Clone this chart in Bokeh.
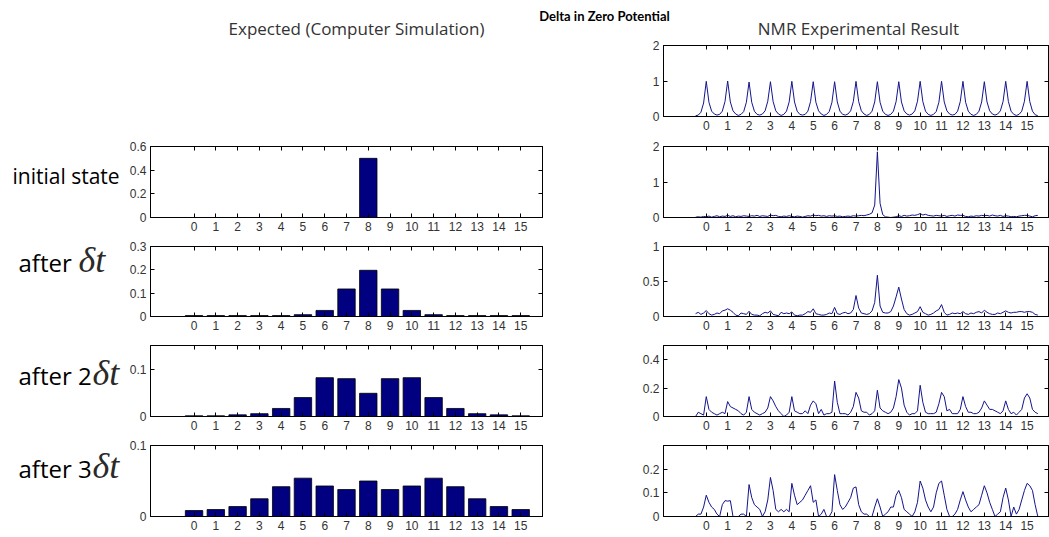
from bokeh.plotting import figure
from bokeh.models import Range1d, FixedTicker, LinearAxis, Spacer
from bokeh.core.properties import value
from bokeh.layouts import column, row
from bokeh.embed import file_html
from bokeh.resources import INLINE

# ---------------- data ----------------
positions = list(range(16))
tick_labels = [str(i) for i in positions]

sim_initial = [0, 0, 0, 0, 0, 0, 0, 0, 0.5, 0, 0, 0, 0, 0, 0, 0]
sim_dt = [0.004, 0.004, 0.004, 0.004, 0.004, 0.008, 0.026, 0.118,
          0.198, 0.118, 0.026, 0.008, 0.004, 0.004, 0.004, 0.004]
sim_2dt = [0.0015, 0.0015, 0.0035, 0.006, 0.017, 0.040, 0.082, 0.080,
           0.049, 0.080, 0.082, 0.040, 0.017, 0.006, 0.0035, 0.0015]
sim_3dt = [0.0084, 0.0098, 0.014, 0.025, 0.042, 0.054, 0.043, 0.038,
           0.050, 0.038, 0.043, 0.054, 0.042, 0.025, 0.014, 0.0098]

# NMR spectra sampled every 0.125 from -0.5 to 15.5
nmr_start = -0.5
nmr_step = 0.125
nmr_reference = [0.02, 0.04, 0.12, 0.38,
    0.99, 0.40, 0.15, 0.07, 0.04, 0.06, 0.15, 0.42,
    1.00, 0.41, 0.16, 0.07, 0.03, 0.06, 0.14, 0.40,
    0.97, 0.40, 0.15, 0.06, 0.04, 0.07, 0.16, 0.43,
    0.98, 0.42, 0.16, 0.07, 0.03, 0.06, 0.15, 0.41,
    0.99, 0.41, 0.15, 0.06, 0.04, 0.06, 0.15, 0.42,
    0.98, 0.40, 0.16, 0.07, 0.03, 0.06, 0.14, 0.40,
    0.98, 0.41, 0.15, 0.06, 0.04, 0.07, 0.16, 0.42,
    0.99, 0.42, 0.16, 0.07, 0.03, 0.06, 0.15, 0.41,
    0.98, 0.40, 0.15, 0.06, 0.03, 0.06, 0.15, 0.42,
    0.98, 0.41, 0.16, 0.07, 0.04, 0.07, 0.16, 0.43,
    0.99, 0.42, 0.15, 0.06, 0.03, 0.06, 0.14, 0.40,
    0.99, 0.41, 0.16, 0.07, 0.04, 0.06, 0.15, 0.42,
    0.99, 0.40, 0.15, 0.06, 0.03, 0.06, 0.15, 0.41,
    0.98, 0.41, 0.16, 0.07, 0.04, 0.07, 0.16, 0.42,
    0.99, 0.42, 0.15, 0.06, 0.03, 0.06, 0.15, 0.43,
    0.99, 0.42, 0.15, 0.05, 0.02]
nmr_initial = [0.01, 0.02, 0.01, 0.03,
    0.02, 0.04, 0.01, 0.03, 0.05, 0.02, 0.04, 0.03,
    0.06, 0.03, 0.05, 0.02, 0.04, 0.03, 0.05, 0.04,
    0.03, 0.05, 0.04, 0.06, 0.03, 0.05, 0.04, 0.03,
    0.07, 0.05, 0.06, 0.03, 0.02, 0.04, 0.03, 0.05,
    0.03, 0.02, 0.04, 0.03, 0.01, 0.03, 0.05, 0.04,
    0.07, 0.05, 0.06, 0.04, 0.05, 0.03, 0.05, 0.04,
    0.05, 0.03, 0.04, 0.02, 0.03, 0.04, 0.03, 0.05,
    0.04, 0.05, 0.06, 0.05, 0.07, 0.09, 0.13, 0.35,
    1.85, 0.40, 0.08, 0.02, 0.01, 0.00, 0.01, 0.02,
    0.05, 0.03, 0.06, 0.04, 0.05, 0.07, 0.06, 0.08,
    0.11, 0.07, 0.09, 0.06, 0.05, 0.04, 0.06, 0.05,
    0.04, 0.06, 0.03, 0.05, 0.06, 0.04, 0.07, 0.06,
    0.06, 0.03, 0.02, 0.04, 0.03, 0.05, 0.04, 0.06,
    0.05, 0.06, 0.04, 0.07, 0.05, 0.04, 0.06, 0.03,
    0.05, 0.04, 0.02, 0.03, 0.02, 0.04, 0.05, 0.06,
    0.06, 0.04, 0.02, 0.05, 0.06]
nmr_dt = [0.04, 0.06, 0.03, 0.05,
    0.085, 0.04, 0.02, 0.03, 0.05, 0.04, 0.08, 0.09,
    0.11, 0.09, 0.06, 0.02, 0.01, 0.05, 0.04, 0.03,
    0.075, 0.03, 0.02, 0.02, 0.01, 0.04, 0.06, 0.05,
    0.08, 0.03, 0.02, 0.01, 0.06, 0.04, 0.05, 0.04,
    0.065, 0.02, 0.01, 0.02, 0.02, 0.04, 0.07, 0.06,
    0.11, 0.04, 0.03, 0.02, 0.02, 0.03, 0.05, 0.04,
    0.13, 0.04, 0.03, 0.05, 0.06, 0.04, 0.05, 0.10,
    0.30, 0.12, 0.05, 0.04, 0.03, 0.04, 0.08, 0.20,
    0.59, 0.15, 0.06, 0.05, 0.05, 0.07, 0.15, 0.28,
    0.42, 0.25, 0.10, 0.04, 0.02, 0.03, 0.05, 0.07,
    0.14, 0.06, 0.04, 0.02, 0.03, 0.05, 0.08, 0.10,
    0.17, 0.06, 0.02, 0.03, 0.05, 0.04, 0.05, 0.04,
    0.07, 0.04, 0.03, 0.05, 0.04, 0.06, 0.07, 0.05,
    0.09, 0.06, 0.04, 0.03, 0.03, 0.05, 0.04, 0.06,
    0.08, 0.06, 0.05, 0.06, 0.06, 0.07, 0.07, 0.06,
    0.07, 0.07, 0.06, 0.03, 0.02]
nmr_2dt = [0.00, 0.03, 0.02, 0.01,
    0.14, 0.05, 0.03, 0.02, 0.01, 0.02, 0.03, 0.02,
    0.105, 0.07, 0.06, 0.05, 0.04, 0.02, 0.01, 0.03,
    0.14, 0.05, 0.03, 0.02, 0.01, 0.02, 0.03, 0.06,
    0.14, 0.11, 0.07, 0.04, 0.02, 0.00, 0.01, 0.03,
    0.14, 0.04, 0.03, 0.02, 0.02, 0.04, 0.02, 0.08,
    0.11, 0.09, 0.02, 0.05, 0.01, 0.02, 0.02, 0.03,
    0.25, 0.10, 0.02, 0.02, 0.02, 0.01, 0.03, 0.07,
    0.17, 0.13, 0.04, 0.03, 0.03, 0.01, 0.02, 0.04,
    0.185, 0.06, 0.04, 0.03, 0.02, 0.03, 0.06, 0.14,
    0.26, 0.20, 0.08, 0.03, 0.01, 0.02, 0.02, 0.04,
    0.22, 0.10, 0.03, 0.02, 0.02, 0.02, 0.03, 0.09,
    0.17, 0.14, 0.04, 0.05, 0.02, 0.02, 0.02, 0.05,
    0.14, 0.07, 0.03, 0.03, 0.02, 0.02, 0.03, 0.06,
    0.11, 0.08, 0.05, 0.05, 0.04, 0.03, 0.02, 0.04,
    0.11, 0.05, 0.02, 0.03, 0.01, 0.03, 0.05, 0.13,
    0.16, 0.13, 0.05, 0.03, 0.02]
nmr_3dt = [0.00, 0.01, 0.01, 0.04,
    0.09, 0.06, 0.04, 0.03, 0.01, 0.00, 0.05, 0.067,
    0.065, 0.067, 0.00, 0.00, 0.00, 0.01, 0.01, 0.00,
    0.135, 0.08, 0.05, 0.04, 0.03, 0.00, 0.02, 0.07,
    0.165, 0.11, 0.03, 0.02, 0.03, 0.02, 0.03, 0.02,
    0.14, 0.09, 0.05, 0.06, 0.07, 0.09, 0.11, 0.13,
    0.06, 0.07, 0.00, 0.01, 0.03, 0.00, 0.00, 0.02,
    0.177, 0.11, 0.05, 0.03, 0.04, 0.06, 0.08, 0.12,
    0.125, 0.05, 0.02, 0.01, 0.01, 0.00, 0.00, 0.04,
    0.075, 0.04, 0.00, 0.01, 0.02, 0.04, 0.04, 0.09,
    0.11, 0.08, 0.03, 0.02, 0.01, 0.00, 0.02, 0.06,
    0.15, 0.12, 0.07, 0.04, 0.02, 0.04, 0.10, 0.14,
    0.15, 0.09, 0.03, 0.00, 0.00, 0.01, 0.03, 0.07,
    0.105, 0.07, 0.04, 0.02, 0.03, 0.04, 0.05, 0.09,
    0.13, 0.10, 0.06, 0.03, 0.00, 0.01, 0.02, 0.08,
    0.12, 0.07, 0.00, 0.04, 0.01, 0.03, 0.07, 0.11,
    0.14, 0.13, 0.11, 0.05, 0.00]

nmr_x = [nmr_start + nmr_step * i for i in range(len(nmr_reference))]

main_title = "Delta in Zero Potential"
left_title = "Expected (Computer Simulation)"
right_title = "NMR Experimental Result"
row_labels = ["initial state", "after", "after 2", "after 3"]
delta_label = "\u03b4t"

# ---------------- styling / layout ----------------
TICK_FONT = "Liberation Sans"
TICK_COLOR = "#333333"
BAR_COLOR = "#000080"
LINE_COLOR = "#14148c"
X_MIN, X_MAX = -2, 16


def fmt(v):
    return "%g" % v


def make_fig(ymax, yticks, fw, fh, bl, br, bt, bb):
    p = figure(frame_width=fw, frame_height=fh,
               min_border_left=bl, min_border_right=br,
               min_border_top=bt, min_border_bottom=bb,
               x_range=Range1d(X_MIN, X_MAX), y_range=Range1d(0, ymax),
               x_axis_type=None, y_axis_type=None,
               output_backend="svg", toolbar_location=None, tools="")
    p.outline_line_color = "black"
    p.outline_line_width = 1
    p.background_fill_color = "white"
    p.border_fill_color = "white"

    def axis(ticks, labels_on):
        ax = LinearAxis(ticker=FixedTicker(ticks=ticks, minor_ticks=[]),
                        major_tick_in=4, major_tick_out=0,
                        major_tick_line_color="black",
                        axis_line_color="black",
                        minor_tick_line_color=None)
        if labels_on:
            ax.major_label_overrides = {t: fmt(t) for t in ticks}
            ax.major_label_text_font = TICK_FONT
            ax.major_label_text_font_size = "12px"
            ax.major_label_text_color = TICK_COLOR
            ax.major_label_standoff = 4
        else:
            ax.major_label_overrides = {t: "" for t in ticks}
            ax.major_label_text_font_size = "1px"
            ax.major_label_standoff = 0
        return ax

    p.add_layout(axis(positions, True), "below")
    p.add_layout(axis(yticks, True), "left")
    p.add_layout(axis(positions, False), "above")
    p.add_layout(axis(yticks, False), "right")
    return p


def text_fig(w, h):
    """A borderless figure whose frame is the whole area, in pixel coordinates (y down)."""
    p = figure(frame_width=w, frame_height=h, min_border=0,
               x_range=Range1d(0, w), y_range=Range1d(h, 0),
               x_axis_type=None, y_axis_type=None,
               output_backend="svg", toolbar_location=None, tools="")
    p.outline_line_color = None
    p.background_fill_color = "white"
    p.border_fill_color = "white"
    p.xgrid.visible = False
    p.ygrid.visible = False
    return p


def put_text(p, x, y, txt, font, size, style="normal", color="black", align="left"):
    p.text(x=[x], y=[y], text=[txt], text_font=value(font), text_font_size=size,
           text_font_style=style, text_color=color, text_align=align,
           text_baseline="middle")


# Left column geometry: label area 126 + bar figure (border 24, frame 392, right 58)
LBL_W = 126
L_BL, L_FW, L_BR = 24, 392, 58
# Right column geometry
R_BL, R_FW, R_BR = 63, 385, 1

# Header (titles)
HEAD_H = 40
header = text_fig(1049, HEAD_H)
put_text(header, 604, 15, main_title, "Lato", "13px", style="bold", align="center")
put_text(header, 356, 28, left_title, "Open Sans", "17px", color="#333333", align="center")
put_text(header, 858, 28, right_title, "Open Sans", "17px", color="#333333", align="center")

# Top row: NMR reference only
top_right = make_fig(2, [0, 1, 2], R_FW, 71, R_BL, R_BR, 5, 23)
top_right.line(nmr_x, nmr_reference, line_color=LINE_COLOR, line_width=1)
top_row = row(Spacer(width=600, height=99), top_right)

WORD_FONT = "Open Sans"
DELTA_FONT, DELTA_SIZE, DELTA_COLOR = "Liberation Serif", "36px", "#2a2a2a"

rows_spec = [
    # sim, ymax_l, yticks_l, nmr, ymax_r, yticks_r, frame_h, border_bottom, row_h, label texts
    (sim_initial, 0.6, [0, 0.2, 0.4, 0.6], nmr_initial, 2, [0, 1, 2], 71, 22, 100,
     [(row_labels[0], 12, 29, WORD_FONT, "normal", "21px", "black")]),
    (sim_dt, 0.3, [0, 0.1, 0.2, 0.3], nmr_dt, 1, [0, 0.5, 1], 70, 22, 99,
     [(row_labels[1], 18, 16, WORD_FONT, "normal", "24px", "black"),
      (delta_label, 78, 13, DELTA_FONT, "italic", DELTA_SIZE, DELTA_COLOR)]),
    (sim_2dt, 0.15, [0, 0.1], nmr_2dt, 0.5, [0, 0.2, 0.4], 71, 22, 100,
     [(row_labels[2], 18, 30, WORD_FONT, "normal", "24px", "black"),
      (delta_label, 92, 27, DELTA_FONT, "italic", DELTA_SIZE, DELTA_COLOR)]),
    (sim_3dt, 0.1, [0, 0.1], nmr_3dt, 0.3, [0, 0.1, 0.2], 71, 21, 99,
     [(row_labels[3], 18, 23, WORD_FONT, "normal", "24px", "black"),
      (delta_label, 92, 20, DELTA_FONT, "italic", DELTA_SIZE, DELTA_COLOR)]),
]

rows = [header, top_row]
for sim, yl, tl, nmr, yr, tr, fh, bb, rh, labels in rows_spec:
    lbl = text_fig(LBL_W, rh)
    for txt, X, Y, font, style, size, color in labels:
        put_text(lbl, X, Y, txt, font, size, style=style, color=color)
    lf = make_fig(yl, tl, L_FW, fh, L_BL, L_BR, 7, bb)
    lf.vbar(x=positions, top=sim, width=0.8, fill_color=BAR_COLOR,
            line_color="black", line_width=0.8)
    rf = make_fig(yr, tr, R_FW, fh, R_BL, R_BR, 7, bb)
    rf.line(nmr_x, nmr, line_color=LINE_COLOR, line_width=1)
    rows.append(row(lbl, lf, rf))

layout = column(*rows)
open("out.html", "w").write(file_html(layout, INLINE))
